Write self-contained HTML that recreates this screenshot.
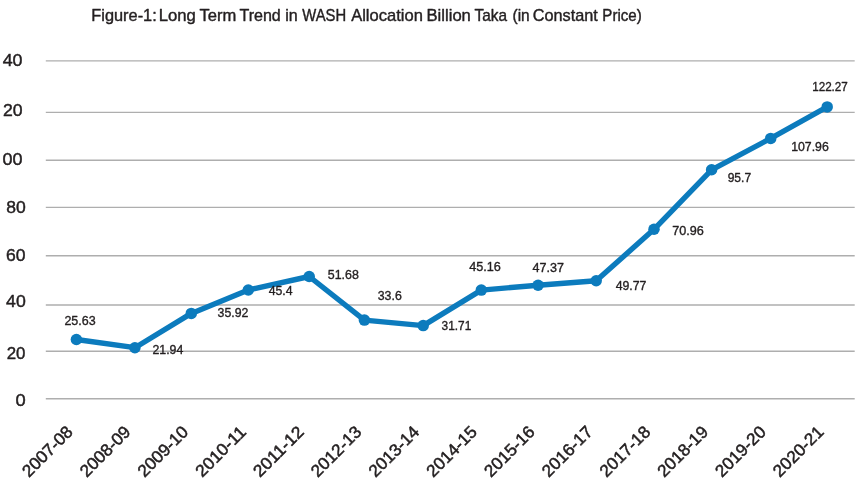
<!DOCTYPE html>
<html lang="en"><head><meta charset="utf-8"><title>Figure-1: Long Term Trend in WASH Allocation</title>
<style>html,body{margin:0;padding:0;background:#fff}body{width:860px;height:484px;overflow:hidden}svg{display:block}text{font-family:"Liberation Sans",sans-serif;fill:#231f20;stroke:#231f20;stroke-linejoin:round}</style></head><body>
<svg width="860" height="484" viewBox="0 0 860 484">
<rect width="860" height="484" fill="#fff"/>
<g stroke="#aeaeae" stroke-width="1.35">
<line x1="45.8" y1="60.8" x2="854.7" y2="60.8"/>
<line x1="45.8" y1="112.3" x2="854.7" y2="112.3"/>
<line x1="45.8" y1="160.2" x2="854.7" y2="160.2"/>
<line x1="45.8" y1="207.4" x2="854.7" y2="207.4"/>
<line x1="45.8" y1="255.7" x2="854.7" y2="255.7"/>
<line x1="45.8" y1="305.0" x2="854.7" y2="305.0"/>
<line x1="45.8" y1="351.2" x2="854.7" y2="351.2"/>
<line x1="45.8" y1="398.7" x2="854.7" y2="398.7"/>
</g>
<g font-size="15.7" stroke-width="0.4">
<text x="91.36" y="21.2" textLength="65.33" lengthAdjust="spacingAndGlyphs">Figure-1:</text>
<text x="158.73" y="21.2" textLength="37.15" lengthAdjust="spacingAndGlyphs">Long</text>
<text x="199.45" y="21.2" textLength="36.79" lengthAdjust="spacingAndGlyphs">Term</text>
<text x="239.44" y="21.2" textLength="41.38" lengthAdjust="spacingAndGlyphs">Trend</text>
<text x="285.22" y="21.2" textLength="12.52" lengthAdjust="spacingAndGlyphs">in</text>
<text x="302.34" y="21.2" textLength="43.86" lengthAdjust="spacingAndGlyphs">WASH</text>
<text x="351.17" y="21.2" textLength="71.71" lengthAdjust="spacingAndGlyphs">Allocation</text>
<text x="426.54" y="21.2" textLength="44.34" lengthAdjust="spacingAndGlyphs">Billion</text>
<text x="474.47" y="21.2" textLength="32.53" lengthAdjust="spacingAndGlyphs">Taka</text>
<text x="512.54" y="21.2" textLength="17.16" lengthAdjust="spacingAndGlyphs">(in</text>
<text x="532.67" y="21.2" textLength="65.15" lengthAdjust="spacingAndGlyphs">Constant</text>
<text x="602.36" y="21.2" textLength="39.37" lengthAdjust="spacingAndGlyphs">Price)</text>
</g>
<g font-size="17.0" stroke-width="0.45">
<text x="2.69" y="66.45" textLength="19.86" lengthAdjust="spacingAndGlyphs">40</text>
<text x="2.91" y="115.65" textLength="19.63" lengthAdjust="spacingAndGlyphs">20</text>
<text x="2.55" y="164.75" textLength="20.01" lengthAdjust="spacingAndGlyphs">00</text>
<text x="6.24" y="212.55" textLength="19.50" lengthAdjust="spacingAndGlyphs">80</text>
<text x="6.11" y="261.35" textLength="19.53" lengthAdjust="spacingAndGlyphs">60</text>
<text x="6.09" y="307.45" textLength="19.65" lengthAdjust="spacingAndGlyphs">40</text>
<text x="6.65" y="358.65" textLength="18.76" lengthAdjust="spacingAndGlyphs">20</text>
<text x="15.58" y="406.35" textLength="10.18" lengthAdjust="spacingAndGlyphs">0</text>
</g>
<polyline fill="none" stroke="#0c7bbd" stroke-width="5.4" stroke-linejoin="round" stroke-linecap="round" points="76.4,339.5 134.9,347.7 191.3,313.4 248.3,290.0 309.2,276.5 364.4,320.1 423.2,325.6 481.3,290.1 538.1,285.2 596.2,280.8 654.0,229.3 711.6,169.8 770.7,138.4 827.2,106.9"/>
<g fill="#0c7bbd">
<circle cx="76.4" cy="339.5" r="5.75"/>
<circle cx="134.9" cy="347.7" r="5.75"/>
<circle cx="191.3" cy="313.4" r="5.75"/>
<circle cx="248.3" cy="290.0" r="5.75"/>
<circle cx="309.2" cy="276.5" r="5.75"/>
<circle cx="364.4" cy="320.1" r="5.75"/>
<circle cx="423.2" cy="325.6" r="5.75"/>
<circle cx="481.3" cy="290.1" r="5.75"/>
<circle cx="538.1" cy="285.2" r="5.75"/>
<circle cx="596.2" cy="280.8" r="5.75"/>
<circle cx="654.0" cy="229.3" r="5.75"/>
<circle cx="711.6" cy="169.8" r="5.75"/>
<circle cx="770.7" cy="138.4" r="5.75"/>
<circle cx="827.2" cy="106.9" r="5.75"/>
</g>
<g font-size="12.2" stroke-width="0.35">
<text x="64.42" y="324.70" textLength="31.28" lengthAdjust="spacingAndGlyphs">25.63</text>
<text x="152.43" y="353.55" textLength="30.88" lengthAdjust="spacingAndGlyphs">21.94</text>
<text x="217.58" y="316.65" textLength="30.79" lengthAdjust="spacingAndGlyphs">35.92</text>
<text x="268.67" y="294.90" textLength="23.94" lengthAdjust="spacingAndGlyphs">45.4</text>
<text x="327.75" y="278.75" textLength="31.04" lengthAdjust="spacingAndGlyphs">51.68</text>
<text x="377.78" y="299.75" textLength="24.01" lengthAdjust="spacingAndGlyphs">33.6</text>
<text x="441.60" y="329.55" textLength="29.73" lengthAdjust="spacingAndGlyphs">31.71</text>
<text x="469.26" y="271.45" textLength="31.65" lengthAdjust="spacingAndGlyphs">45.16</text>
<text x="532.56" y="271.55" textLength="31.42" lengthAdjust="spacingAndGlyphs">47.37</text>
<text x="615.67" y="290.15" textLength="30.80" lengthAdjust="spacingAndGlyphs">49.77</text>
<text x="672.30" y="234.90" textLength="31.60" lengthAdjust="spacingAndGlyphs">70.96</text>
<text x="727.68" y="181.55" textLength="23.47" lengthAdjust="spacingAndGlyphs">95.7</text>
<text x="791.21" y="150.55" textLength="37.58" lengthAdjust="spacingAndGlyphs">107.96</text>
<text x="812.16" y="90.75" textLength="35.68" lengthAdjust="spacingAndGlyphs">122.27</text>
</g>
<g font-size="17.0" text-anchor="end" stroke-width="0.5">
<text transform="translate(73.90,433) rotate(-45)" textLength="63.5" lengthAdjust="spacingAndGlyphs">2007-08</text>
<text transform="translate(131.65,433) rotate(-45)" textLength="63.5" lengthAdjust="spacingAndGlyphs">2008-09</text>
<text transform="translate(189.41,433) rotate(-45)" textLength="63.5" lengthAdjust="spacingAndGlyphs">2009-10</text>
<text transform="translate(247.16,433) rotate(-45)" textLength="63.5" lengthAdjust="spacingAndGlyphs">2010-11</text>
<text transform="translate(304.92,433) rotate(-45)" textLength="63.5" lengthAdjust="spacingAndGlyphs">2011-12</text>
<text transform="translate(362.67,433) rotate(-45)" textLength="63.5" lengthAdjust="spacingAndGlyphs">2012-13</text>
<text transform="translate(420.42,433) rotate(-45)" textLength="63.5" lengthAdjust="spacingAndGlyphs">2013-14</text>
<text transform="translate(478.18,433) rotate(-45)" textLength="63.5" lengthAdjust="spacingAndGlyphs">2014-15</text>
<text transform="translate(535.93,433) rotate(-45)" textLength="63.5" lengthAdjust="spacingAndGlyphs">2015-16</text>
<text transform="translate(593.69,433) rotate(-45)" textLength="63.5" lengthAdjust="spacingAndGlyphs">2016-17</text>
<text transform="translate(651.44,433) rotate(-45)" textLength="63.5" lengthAdjust="spacingAndGlyphs">2017-18</text>
<text transform="translate(709.19,433) rotate(-45)" textLength="63.5" lengthAdjust="spacingAndGlyphs">2018-19</text>
<text transform="translate(766.95,433) rotate(-45)" textLength="63.5" lengthAdjust="spacingAndGlyphs">2019-20</text>
<text transform="translate(824.70,433) rotate(-45)" textLength="63.5" lengthAdjust="spacingAndGlyphs">2020-21</text>
</g>
</svg></body></html>
